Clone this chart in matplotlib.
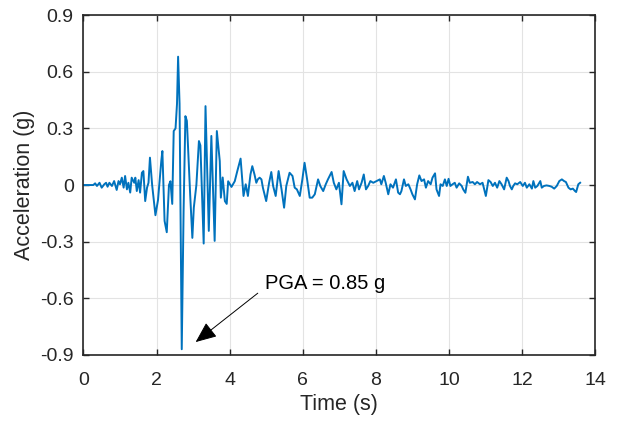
import matplotlib
matplotlib.use("Agg")
from matplotlib import pyplot as plt

plt.rcParams['font.family'] = ['Liberation Sans', 'DejaVu Sans']

# ground motion record (time in s, acceleration in g)
time = [0.00, 0.27, 0.32, 0.37, 0.44, 0.50, 0.57, 0.62, 0.66, 0.71, 0.78, 0.84, 0.91, 0.96, 1.00,
        1.05, 1.10, 1.14, 1.19, 1.23, 1.28, 1.32, 1.39, 1.42, 1.46, 1.51, 1.55, 1.60, 1.64, 1.69,
        1.74, 1.78, 1.82, 1.88, 1.97, 2.04, 2.13, 2.16, 2.22, 2.28, 2.34, 2.38, 2.43, 2.47, 2.52,
        2.56, 2.59, 2.63, 2.69, 2.74, 2.79, 2.83, 2.88, 2.92, 2.98, 3.02, 3.09, 3.16, 3.20, 3.29,
        3.34, 3.38, 3.43, 3.50, 3.59, 3.65, 3.73, 3.76, 3.81, 3.87, 3.92, 3.96, 4.05, 4.14, 4.21,
        4.30, 4.38, 4.44, 4.50, 4.57, 4.62, 4.68, 4.73, 4.77, 4.82, 4.87, 4.91, 5.00, 5.08, 5.14,
        5.19, 5.26, 5.34, 5.42, 5.49, 5.55, 5.64, 5.72, 5.78, 5.84, 5.92, 5.99, 6.05, 6.12, 6.19,
        6.26, 6.33, 6.42, 6.48, 6.56, 6.63, 6.69, 6.79, 6.85, 6.92, 6.99, 7.06, 7.12, 7.20, 7.29,
        7.36, 7.42, 7.49, 7.54, 7.61, 7.67, 7.73, 7.79, 7.85, 7.93, 8.02, 8.11, 8.15, 8.22, 8.27,
        8.34, 8.40, 8.47, 8.55, 8.61, 8.66, 8.70, 8.77, 8.82, 8.89, 8.95, 9.00, 9.07, 9.13, 9.19,
        9.25, 9.32, 9.37, 9.43, 9.50, 9.55, 9.62, 9.66, 9.73, 9.77, 9.83, 9.89, 9.94, 9.99, 10.04,
        10.10, 10.16, 10.21, 10.28, 10.35, 10.39, 10.45, 10.52, 10.57, 10.65, 10.71, 10.77, 10.85,
        10.92, 11.01, 11.08, 11.14, 11.20, 11.26, 11.32, 11.38, 11.44, 11.51, 11.58, 11.63, 11.67,
        11.72, 11.76, 11.81, 11.87, 11.95, 12.02, 12.08, 12.13, 12.20, 12.27, 12.31, 12.36, 12.42,
        12.50, 12.54, 12.60, 12.67, 12.75, 12.81, 12.88, 12.95, 13.02, 13.09, 13.15, 13.20, 13.27,
        13.33, 13.39, 13.45, 13.48, 13.54, 13.59]
accel = [0.000, 0.000, 0.009, -0.005, 0.012, -0.014, 0.004, 0.012, -0.009, 0.012, -0.005, 0.021,
         -0.026, 0.021, 0.004, 0.039, -0.014, 0.048, -0.023, 0.012, -0.040, 0.039, 0.012, 0.039,
         -0.032, 0.026, -0.040, 0.065, 0.074, -0.085, -0.014, 0.012, 0.145, 0.000, -0.160, -0.080,
         0.127, 0.180, -0.190, -0.250, 0.000, 0.020, -0.100, 0.286, 0.300, 0.430, 0.680, 0.430,
         -0.870, -0.140, 0.365, 0.340, 0.127, -0.050, -0.280, -0.120, 0.000, 0.233, 0.210, -0.310,
         0.418, 0.120, -0.243, 0.260, -0.296, 0.286, 0.127, -0.067, 0.040, -0.085, -0.100, 0.020,
         -0.010, 0.020, 0.074, 0.140, -0.058, 0.004, -0.058, 0.056, 0.100, 0.056, 0.012, 0.030,
         0.039, 0.030, -0.014, -0.085, 0.012, 0.069, -0.005, -0.058, 0.074, -0.023, -0.120,
         -0.005, 0.065, 0.048, -0.014, -0.023, -0.058, 0.030, 0.118, 0.030, -0.067, -0.067,
         -0.049, 0.030, -0.005, -0.032, 0.004, 0.030, 0.069, 0.012, -0.023, 0.012, -0.102, 0.074,
         0.030, -0.005, 0.012, -0.032, 0.021, -0.023, 0.012, 0.056, -0.023, -0.005, 0.021, 0.012,
         0.021, 0.030, 0.004, 0.048, 0.012, -0.049, 0.004, -0.014, 0.030, -0.040, -0.049, -0.032,
         0.030, -0.005, 0.004, -0.023, -0.049, -0.076, 0.004, 0.051, 0.021, 0.030, -0.014, 0.021,
         0.004, 0.039, 0.062, -0.023, -0.058, 0.004, -0.005, 0.030, -0.005, 0.033, -0.005, 0.004,
         0.012, -0.014, 0.009, -0.005, -0.023, -0.041, 0.044, 0.012, 0.016, 0.004, 0.016, 0.004,
         0.012, -0.058, 0.026, 0.016, -0.005, 0.012, -0.014, 0.021, 0.004, -0.023, 0.039, 0.021,
         -0.005, -0.023, -0.005, 0.009, 0.004, 0.016, -0.005, 0.012, -0.014, 0.004, -0.019, 0.021,
         -0.014, -0.005, 0.021, -0.014, -0.005, -0.002, -0.005, -0.009, -0.019, -0.005, 0.021,
         0.030, 0.021, 0.016, -0.014, -0.023, -0.019, -0.032, -0.037, 0.004, 0.012]

x_ticks = [0, 2, 4, 6, 8, 10, 12, 14]
y_ticks = [-0.9, -0.6, -0.3, 0, 0.3, 0.6, 0.9]
y_tick_labels = ['-0.9', '-0.6', '-0.3', '0', '0.3', '0.6', '0.9']
pga = 0.85
pga_time = 2.69

fig = plt.figure(figsize=(6.18, 4.21), dpi=100)
ax = fig.add_axes([0.135, 0.157, 0.828, 0.807])

ax.plot(time, accel, color='#0072BD', linewidth=1.4)

ax.set_xlim(0, 14)
ax.set_ylim(-0.9, 0.9)
ax.set_xticks(x_ticks)
ax.set_yticks(y_ticks)
ax.set_yticklabels(y_tick_labels)
ax.grid(True, color='#e3e3e3', linewidth=0.8)
ax.set_axisbelow(True)
ax.tick_params(direction='in', top=True, right=True, length=4, width=1.0,
               labelsize=14, colors='#262626')
ax.tick_params(axis='x', pad=12)
ax.tick_params(axis='y', pad=7)
for s in ax.spines.values():
    s.set_linewidth(1.2)
    s.set_color('#262626')

ax.set_xlabel('Time (s)', fontsize=15.5, color='#262626', labelpad=4)
ax.set_ylabel('Acceleration (g)', fontsize=15.5, color='#262626', labelpad=4)

# PGA label and arrow pointing at the peak
ax.text(4.96, -0.52, 'PGA = %.2f g' % pga, fontsize=14.5, color='black', va='center', ha='left')
ax.annotate('', xy=(pga_time + 0.38, -0.832), xytext=(4.77, -0.573),
            arrowprops=dict(arrowstyle='-|>,head_length=1.3,head_width=0.55', color='black',
                            linewidth=0.7, shrinkA=0, shrinkB=0))

fig.savefig('out.png', dpi=100)
